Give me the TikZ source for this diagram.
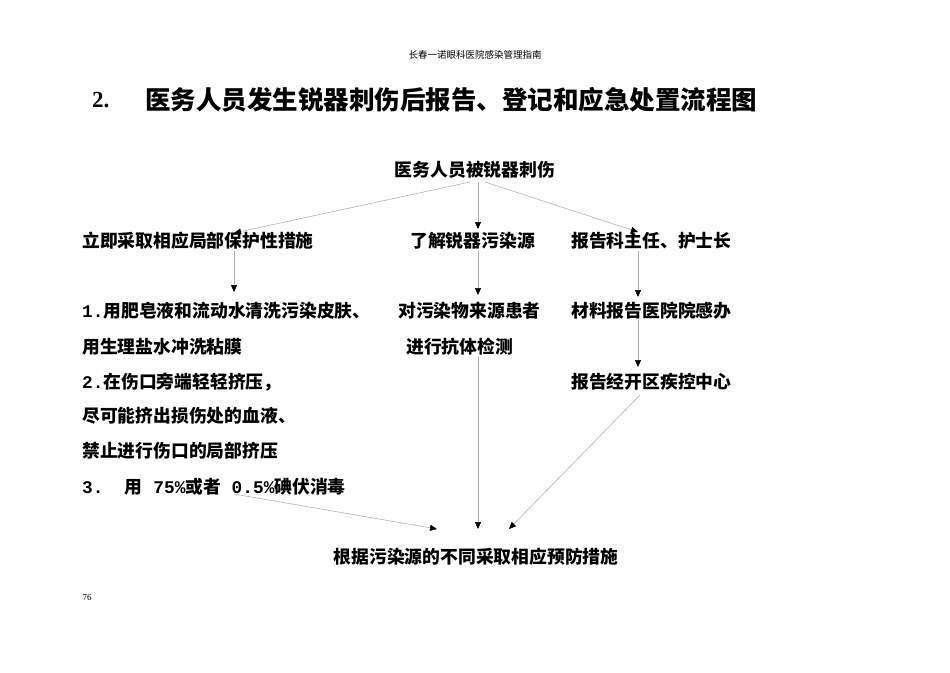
\documentclass[tikz,border=0pt]{standalone}
\usepackage{fontspec}
\setmainfont{Liberation Serif}
\newfontfamily\cjk{Noto Sans CJK SC}
\newfontfamily\lmono{Liberation Mono}
\usetikzlibrary{arrows.meta}
\begin{document}
\begin{tikzpicture}[x=1pt,y=-1pt,
  t/.style={font=\cjk\bfseries\fontsize{17.8}{19}\selectfont, inner sep=0pt, anchor=west},
  tc/.style={font=\cjk\bfseries\fontsize{17.8}{19}\selectfont, inner sep=0pt},
  arr/.style={draw=black!30, line width=0.6pt, -{Triangle[length=7pt,width=6pt,fill=black,color=black]}}]
\useasboundingbox (0,0) rectangle (950,672);
\node[font=\cjk\fontsize{9.5}{10}\selectfont] (hdr) at (475,55) {长春一诺眼科医院感染管理指南};
\node[font=\bfseries\fontsize{23}{26}\selectfont, anchor=west, inner sep=0pt] (num) at (92,100) {2.};
\node[font=\cjk\bfseries\fontsize{25.5}{28}\selectfont, anchor=west, inner sep=0pt] (title) at (145,100) {医务人员发生锐器刺伤后报告、登记和应急处置流程图};
\node[tc] (top) at (475,170) {医务人员被锐器刺伤};
\node[t] (l1) at (82,241) {立即采取相应局部保护性措施};
\node[t] (m1) at (410,241) {了解锐器污染源};
\node[t] (r1) at (571,241) {报告科主任、护士长};
\node[t] (l2) at (82,311) {{\lmono 1.}用肥皂液和流动水清洗污染皮肤、};
\node[t] (l3) at (82,347) {用生理盐水冲洗粘膜};
\node[t] (l4) at (82,382) {{\lmono 2.}在伤口旁端轻轻挤压，};
\node[t] (l5) at (82,416) {尽可能挤出损伤处的血液、};
\node[t] (l6) at (82,451) {禁止进行伤口的局部挤压};
\node[t] (l7) at (82,487) {{\lmono 3.\ \ }用{\lmono\ 75\%}或者{\lmono\ 0.5\%}碘伏消毒};
\node[t] (m2) at (398,311) {对污染物来源患者};
\node[t] (m3) at (406,347) {进行抗体检测};
\node[t] (r2) at (571,311) {材料报告医院院感办};
\node[t] (r3) at (571,382) {报告经开区疾控中心};
\node[tc] (bot) at (476,557) {根据污染源的不同采取相应预防措施};
\node[font=\fontsize{9}{10}\selectfont] (pg) at (87,598) {76};
\coordinate (ta) at (470,182);
\coordinate (tb) at (478,182);
\coordinate (tc2) at (485,182);
\coordinate (lA) at (234,251);
\coordinate (lAe) at (234,292);
\coordinate (mA) at (478,251);
\coordinate (mAe) at (478,295);
\coordinate (rA) at (638,251);
\coordinate (rAe) at (638,297);
\draw[arr] (ta) -- (234,233);
\draw[arr] (tb) -- (478,229);
\draw[arr] (tc2) -- (638,232);
\draw[arr] (lA) -- (lAe);
\draw[arr] (mA) -- (mAe);
\draw[arr] (rA) -- (rAe);
\draw[arr] (m3.south -| mA) -- (478,529);
\draw[arr] (r2.south -| rA) -- (638,367);
\draw[arr] (640,395) -- (509,529);
\draw[arr] (234,494) -- (437,529);
\end{tikzpicture}
\end{document}
